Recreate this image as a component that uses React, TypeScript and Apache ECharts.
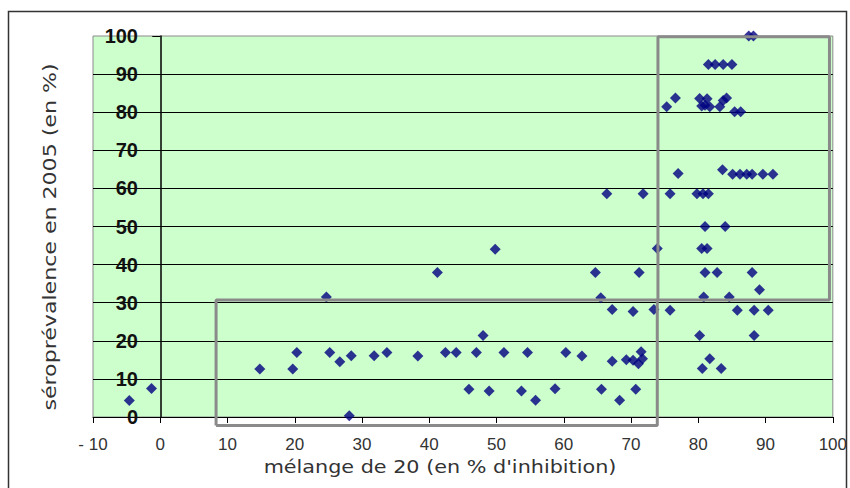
import React, { useEffect, useRef } from "react";
import * as echarts from "echarts";

const xTicks = { min: -10, max: 100, interval: 10 };
const yTicks = { min: 0, max: 100, interval: 10 };

const xTitle = "mélange de 20 (en % d'inhibition)";
const yTitle = "séroprévalence en 2005 (en %)";

const lowPoints: number[][] = [
  [-4.6, 4.3], [-1.3, 7.5], [14.8, 12.6], [19.7, 12.6], [20.3, 16.9], [24.7, 31.5],
  [25.2, 16.9], [26.7, 14.5], [28.4, 16.1], [28.1, 0.3], [31.8, 16.1], [33.7, 16.9],
  [38.3, 16.0], [41.2, 37.9], [42.4, 16.9], [44.0, 16.9], [45.9, 7.3], [47.0, 16.9],
  [48.0, 21.4], [48.9, 6.8], [49.8, 44.0], [51.1, 16.9], [53.7, 6.8], [54.6, 16.9],
  [55.8, 4.4], [58.7, 7.4], [60.3, 16.9], [62.7, 16.0], [64.7, 37.9], [65.5, 31.3],
  [65.6, 7.3], [66.4, 58.6], [67.2, 28.2], [67.2, 14.6], [68.3, 4.4], [69.3, 15.0],
  [70.3, 14.9], [70.3, 27.7], [70.7, 7.3], [71.1, 14.0], [71.5, 17.1], [71.7, 15.3],
  [71.2, 37.9], [71.8, 58.6], [73.4, 28.2], [73.9, 44.2],
];

const highPoints: number[][] = [
  [75.3, 81.4], [76.6, 83.7], [75.8, 58.6], [77.0, 63.9], [75.8, 28.0], [80.2, 83.6],
  [81.3, 83.5], [80.5, 81.6], [81.0, 81.8], [81.7, 81.4], [83.2, 81.4], [83.7, 83.1],
  [84.2, 83.7], [85.4, 80.1], [86.3, 80.1], [81.5, 92.5], [82.5, 92.5], [83.7, 92.5],
  [85.0, 92.5], [87.5, 100], [88.2, 100], [83.6, 64.9], [85.1, 63.7], [86.2, 63.7],
  [87.2, 63.7], [88.0, 63.7], [89.6, 63.7], [91.1, 63.7], [79.8, 58.6], [80.7, 58.6],
  [81.5, 58.6], [81.0, 50.0], [84.0, 50.0], [80.5, 44.2], [81.3, 44.2], [81.0, 37.9],
  [82.8, 37.9], [88.0, 37.9], [89.1, 33.4], [80.8, 31.5], [84.6, 31.5], [85.8, 28.0],
  [88.3, 28.0], [90.4, 28.0], [80.2, 21.4], [88.3, 21.4], [81.7, 15.3], [80.6, 12.7],
  [83.4, 12.7],
];

// Highlight boxes (corners in data units)
const boxLow: number[][] = [[8.3, -2.2], [73.9, -2.2], [73.9, 30.7], [8.3, 30.7], [8.3, -2.2]];
const boxHigh: number[][] = [[74.0, 30.7], [99.5, 30.7], [99.5, 99.8], [74.0, 99.8], [74.0, 30.7]];

export default function App() {
  const ref = useRef<HTMLDivElement>(null);
  useEffect(() => {
    if (!ref.current) return;
    const chart = echarts.init(ref.current, null, { renderer: "svg" });
    const boxStyle = { color: "#8a8a8a", width: 3 };
    chart.setOption({
      animation: false,
      backgroundColor: "#ffffff",
      grid: {
        left: 93, right: 17, top: 36, bottom: 71,
        show: true, backgroundColor: "#CCFFCC", borderColor: "#8a8a8a", borderWidth: 1,
      },
      xAxis: {
        type: "value", ...xTicks,
        axisLine: { show: true, onZero: false, lineStyle: { color: "#000", width: 1 } },
        axisTick: { show: true, inside: false, length: 6, lineStyle: { color: "#000" } },
        axisLabel: {
          margin: 19, fontSize: 17, color: "#333", fontFamily: "Liberation Sans",
          formatter: (v: number) => (v < 0 ? "- " + Math.abs(v) : String(v)),
        },
        splitLine: { show: false },
      },
      yAxis: {
        type: "value", ...yTicks,
        axisLine: { show: true, onZero: true, lineStyle: { color: "#000", width: 1.5 } },
        axisTick: { show: true, inside: false, length: 8, lineStyle: { color: "#000" } },
        axisLabel: {
          margin: -45, fontSize: 20, fontWeight: "bold", color: "#111",
          fontFamily: "Liberation Sans", align: "right",
        },
        splitLine: { show: true, showMaxLine: false, lineStyle: { color: "#000", width: 1.2 } },
      },
      graphic: [
        {
          type: "rect", shape: { x: 8.5, y: 11.5, width: 838, height: 485 },
          style: { fill: "none", stroke: "#333", lineWidth: 1.5 }, silent: true, z: -10,
        },
        {
          type: "text", x: 440, y: 467, scaleX: 1.22,
          style: {
            text: xTitle, fill: "#333", fontSize: 17, fontFamily: "DejaVu Sans",
            align: "center", verticalAlign: "middle",
          },
        },
        {
          type: "text", x: 50, y: 237, rotation: Math.PI / 2, scaleX: 1.3,
          style: {
            text: yTitle, fill: "#333", fontSize: 17, fontFamily: "DejaVu Sans",
            align: "center", verticalAlign: "middle",
          },
        },
      ],
      series: [
        {
          type: "line", data: boxLow, symbol: "none", clip: false,
          lineStyle: boxStyle, silent: true,
        },
        {
          type: "line", data: boxHigh, symbol: "none", clip: false,
          lineStyle: boxStyle, silent: true,
        },
        {
          type: "scatter", data: lowPoints, symbol: "diamond", symbolSize: 11,
          itemStyle: { color: "#000080" }, clip: false,
        },
        {
          type: "scatter", data: highPoints, symbol: "diamond", symbolSize: 11,
          itemStyle: { color: "#000080" }, clip: false,
        },
      ],
    });
    return () => chart.dispose();
  }, []);
  return (
    <div
      ref={ref}
      style={{ position: "fixed", left: 0, top: 0, width: 850, height: 488 }}
    />
  );
}
